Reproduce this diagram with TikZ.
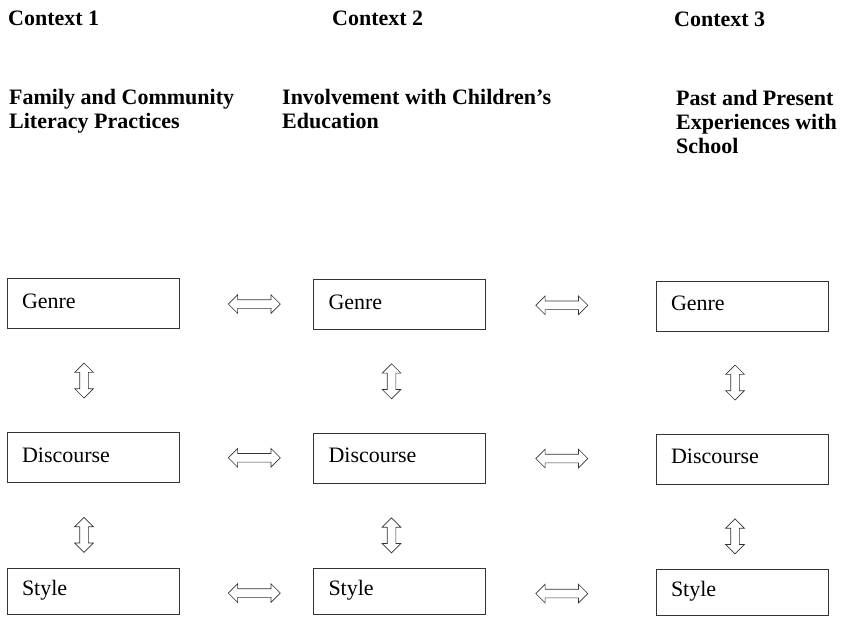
\documentclass[tikz,border=0pt]{standalone}
\usepackage{fontspec}
\setmainfont{Liberation Serif}
\usetikzlibrary{shapes.arrows, calc, positioning}

\tikzset{
  box/.style={draw=black!80, line width=0.8pt, rectangle, minimum width=172pt, minimum height=50pt,
    inner xsep=15pt, text width=142pt, align=left, text height=15pt, text depth=6pt},
  head/.style={font=\fontsize{22pt}{24pt}\selectfont\bfseries, inner sep=0pt, align=left},
  harr/.style={double arrow, draw=black!80, line width=0.7pt, inner sep=4pt, minimum height=52pt,
    minimum width=18pt, double arrow head extend=5pt},
  varr/.style={harr, shape border rotate=90, minimum height=35pt}
}

\begin{document}
\begin{tikzpicture}[x=1pt, y=-1pt, font=\fontsize{22pt}{24pt}\selectfont]
    \useasboundingbox[fill=white] (0,0) rectangle (846,621);

    % Headings
    \node[head, anchor=base west] (c1) at (8,25) {Context 1};
    \node[head, anchor=base west] (c2) at (332,25) {Context 2};
    \node[head, anchor=base west] (c3) at (674,27) {Context 3};
    \node[head, anchor=north west] (t1) at (9,89) {Family and Community\\Literacy Practices};
    \node[head, anchor=north west] (t2) at (282,89) {Involvement with Children's\\Education};
    \node[head, anchor=north west] (t3) at (676,90) {Past and Present\\Experiences with\\School};

    % Boxes, column by column
    \node[box] (genre1) at (93,303.5) {Genre};
    \node[box] (disc1) at (93,457.5) {Discourse};
    \node[box, minimum height=46pt] (style1) at (93,591) {Style};

    \node[box] (genre2) at (399.5,304.5) {Genre};
    \node[box] (disc2) at (399.5,458) {Discourse};
    \node[box, minimum height=46pt] (style2) at (399.5,591) {Style};

    \node[box] (genre3) at (742,306) {Genre};
    \node[box] (disc3) at (742,459) {Discourse};
    \node[box, minimum height=46pt] (style3) at (742,592) {Style};

    % Left-right arrows
    \node[harr] (h11) at ($(genre1.east)!0.5!(genre2.west)+(8,0)$) {};
    \node[harr] (h12) at ($(genre2.east)!0.5!(genre3.west)+(-9,0)$) {};
    \node[harr] (h21) at ($(disc1.east)!0.5!(disc2.west)+(8,0)$) {};
    \node[harr] (h22) at ($(disc2.east)!0.5!(disc3.west)+(-9,0)$) {};
    \node[harr] (h31) at ($(style1.east)!0.5!(style2.west)+(8,2)$) {};
    \node[harr] (h32) at ($(style2.east)!0.5!(style3.west)+(-9,2)$) {};

    % Up-down arrows
    \node[varr] (v11) at ($(genre1.south)!0.5!(disc1.north)+(-9,0)$) {};
    \node[varr] (v12) at ($(disc1.south)+(-9,52)$) {};
    \node[varr] (v21) at ($(genre2.south)!0.5!(disc2.north)+(-8,0)$) {};
    \node[varr] (v22) at ($(disc2.south)+(-8,52)$) {};
    \node[varr] (v31) at ($(genre3.south)!0.5!(disc3.north)+(-7,0)$) {};
    \node[varr] (v32) at ($(disc3.south)+(-7,52)$) {};
\end{tikzpicture}
\end{document}
